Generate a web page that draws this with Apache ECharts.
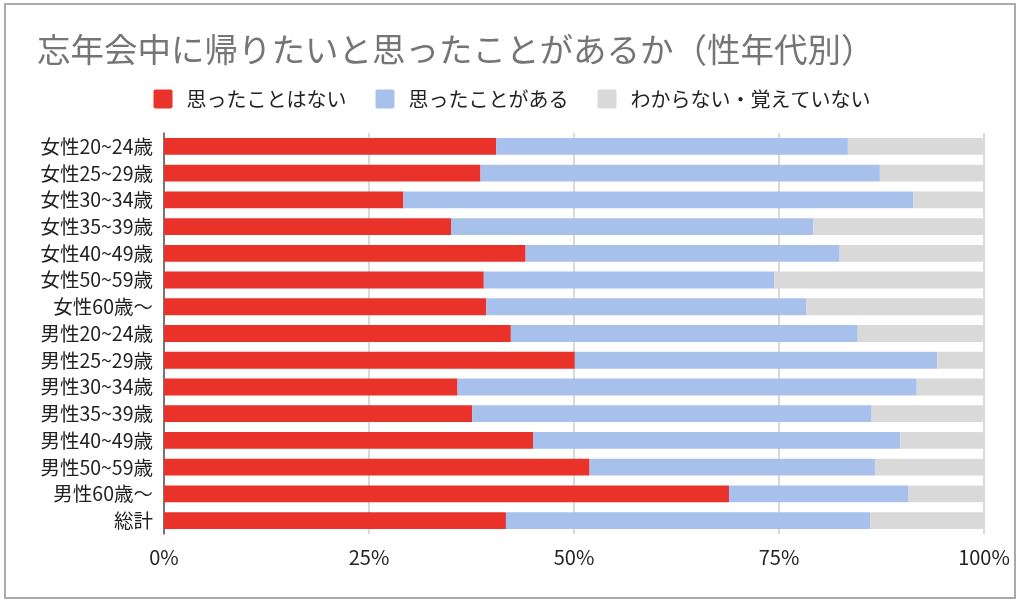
<!DOCTYPE html>
<html lang="ja">
<head>
    <meta charset="UTF-8">
    <title>忘年会中に帰りたいと思ったことがあるか</title>
    <script type="text/javascript" src="https://cdn.jsdelivr.net/npm/echarts@6/dist/echarts.min.js"></script>
    <style>
        html, body { margin: 0; padding: 0; background: #fff; }
    </style>
</head>
<body>
<div id="chart" style="width:1024px;height:605px;"></div>
<script type="text/javascript">
    // カテゴリ（上から順）
    var categories = ['女性20~24歳', '女性25~29歳', '女性30~34歳', '女性35~39歳', '女性40~49歳',
        '女性50~59歳', '女性60歳〜', '男性20~24歳', '男性25~29歳', '男性30~34歳',
        '男性35~39歳', '男性40~49歳', '男性50~59歳', '男性60歳〜', '総計'];

    var seriesNames = ['思ったことはない', '思ったことがある', 'わからない・覚えていない'];

    // 割合（%）
    var neverData = [40.5, 38.6, 29.2, 35.0, 44.1, 39.0, 39.3, 42.3, 50.1, 35.8, 37.6, 45.0, 51.9, 68.9, 41.7];
    var yesData = [42.9, 48.7, 62.2, 44.2, 38.3, 35.4, 39.0, 42.3, 44.2, 56.0, 48.7, 44.8, 34.8, 21.9, 44.4];
    var unknownData = [16.6, 12.7, 8.6, 20.8, 17.6, 25.6, 21.7, 15.4, 5.7, 8.2, 13.7, 10.2, 13.3, 9.2, 13.9];

    var xTicks = [0, 25, 50, 75, 100];

    var myChart = echarts.init(document.getElementById('chart'));
    var font = '"Noto Sans CJK JP", "Noto Sans", sans-serif';

    function barSeries(name, data, color, radius) {
        return {
            name: name,
            type: 'bar',
            stack: 'total',
            barWidth: '63%',
            data: data,
            itemStyle: {color: color, borderRadius: radius},
            emphasis: {disabled: true}
        };
    }

    var option = {
        animation: false,
        textStyle: {fontFamily: font},
        graphic: [{
            type: 'rect',
            shape: {x: 5, y: 4, width: 1010, height: 594},
            style: {fill: 'none', stroke: '#aaaaaa', lineWidth: 2},
            silent: true
        }],
        title: {
            text: '忘年会中に帰りたいと思ったことがあるか（性年代別）',
            left: 32,
            top: 28,
            textStyle: {fontWeight: 'normal', fontSize: 33.5, color: '#757575', fontFamily: font}
        },
        legend: {
            top: 84,
            left: 'center',
            itemWidth: 19,
            itemHeight: 19,
            itemGap: 29,
            icon: 'path://M2,0 L17,0 Q19,0 19,2 L19,17 Q19,19 17,19 L2,19 Q0,19 0,17 L0,2 Q0,0 2,0 Z',
            data: seriesNames,
            textStyle: {fontSize: 20, color: '#222', fontFamily: font, padding: [0, 0, 0, 9]}
        },
        grid: {left: 164, right: 40, top: 133, bottom: 71},
        xAxis: {
            type: 'value',
            min: 0,
            max: 100,
            interval: 25,
            axisLine: {show: false},
            axisTick: {show: false},
            splitLine: {lineStyle: {color: '#cccccc', width: 1.5}},
            axisLabel: {
                fontSize: 20,
                color: '#222',
                margin: 13,
                formatter: function (v) {
                    return xTicks.indexOf(v) >= 0 ? v + '%' : '';
                }
            }
        },
        yAxis: {
            type: 'category',
            inverse: true,
            data: categories,
            axisLine: {show: true, lineStyle: {color: '#555', width: 1.5}},
            axisTick: {show: false},
            axisLabel: {fontSize: 19.5, color: '#222', margin: 11}
        },
        series: [
            barSeries(seriesNames[0], neverData, '#e8322a', 0),
            barSeries(seriesNames[1], yesData, '#a8c1ec', 0),
            barSeries(seriesNames[2], unknownData, '#d9d9d9', [0, 3, 3, 0])
        ]
    };
    myChart.setOption(option);
</script>
</body>
</html>
